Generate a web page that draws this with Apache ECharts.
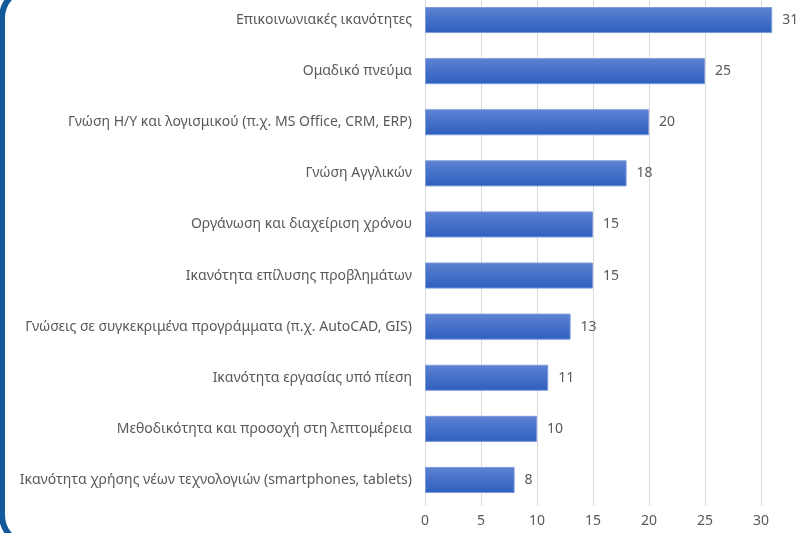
<!DOCTYPE html>
<html>
<head>
<meta charset="utf-8">
<script src="https://cdn.jsdelivr.net/npm/echarts@6/dist/echarts.min.js"></script>
<style>
  html, body { margin: 0; padding: 0; background: #fff; }
  #chart { width: 801px; height: 533px; }
</style>
</head>
<body>
<div id="chart"></div>
<script>
// categories, top to bottom
const skills = [
  'Επικοινωνιακές ικανότητες',
  'Ομαδικό πνεύμα',
  'Γνώση Η/Υ και λογισμικού (π.χ. MS Office, CRM, ERP)',
  'Γνώση Αγγλικών',
  'Οργάνωση και διαχείριση χρόνου',
  'Ικανότητα επίλυσης προβλημάτων',
  'Γνώσεις σε συγκεκριμένα προγράμματα (π.χ. AutoCAD, GIS)',
  'Ικανότητα εργασίας υπό πίεση',
  'Μεθοδικότητα και προσοχή στη λεπτομέρεια',
  'Ικανότητα χρήσης νέων τεχνολογιών (smartphones, tablets)'
]
const counts = [31, 25, 20, 18, 15, 15, 13, 11, 10, 8]

const textColor = '#595959'
const font = '"Noto Sans", "Open Sans", sans-serif'

let chart = echarts.init(document.getElementById('chart'))
let option = {
  animation: false,
  grid: {
    left: 425,
    top: -5.5,
    width: 392,
    height: 511,
    containLabel: false,
    outerBoundsMode: 'none'
  },
  xAxis: {
    type: 'value',
    min: 0,
    max: 35,
    interval: 5,
    axisLine: { show: false },
    axisTick: { show: false },
    axisLabel: {
      color: textColor,
      fontSize: 14,
      fontFamily: font,
      margin: 9
    },
    splitLine: {
      lineStyle: { color: '#d9d9d9', width: 1 }
    }
  },
  yAxis: {
    type: 'category',
    inverse: true,
    data: skills,
    axisLine: { show: false },
    axisTick: { show: false },
    axisLabel: {
      color: textColor,
      fontSize: 14,
      fontFamily: font,
      margin: 13
    }
  },
  series: [{
    type: 'bar',
    data: counts,
    barWidth: '51%',
    itemStyle: {
      color: new echarts.graphic.LinearGradient(0, 0, 0, 1, [
        { offset: 0, color: '#5d82d2' },
        { offset: 1, color: '#2e5fbe' }
      ]),
      borderColor: '#7d9bdb',
      borderWidth: 1
    },
    label: {
      show: true,
      position: 'right',
      distance: 10,
      color: textColor,
      fontSize: 14,
      fontFamily: font
    }
  }],
  graphic: [{
    type: 'rect',
    silent: true,
    shape: { x: 2, y: -12, width: 1000, height: 557, r: 30 },
    style: { fill: 'none', stroke: '#135a9b', lineWidth: 6 }
  }]
}
chart.setOption(option)
</script>
</body>
</html>
